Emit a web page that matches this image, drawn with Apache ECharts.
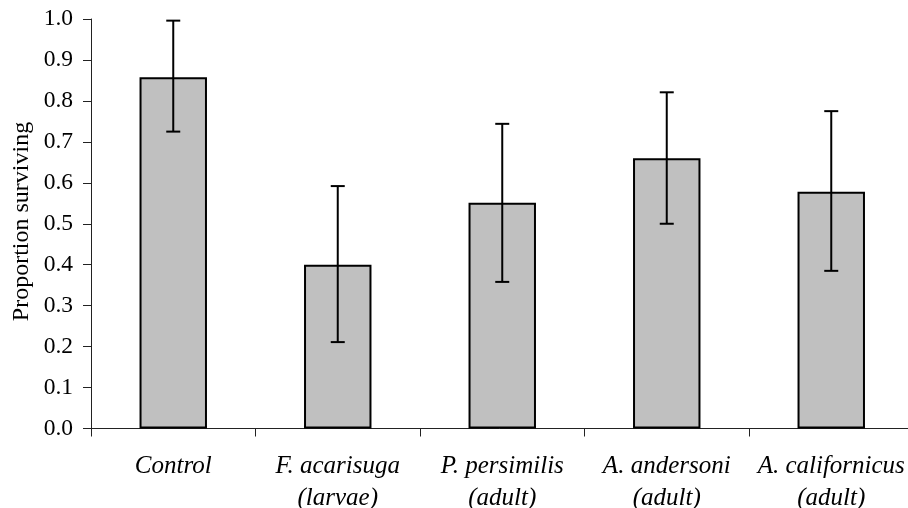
<!DOCTYPE html>
<html>
<head>
<meta charset="utf-8">
<script src="https://cdn.jsdelivr.net/npm/echarts@6/dist/echarts.min.js"></script>
<style>
html,body{margin:0;padding:0;background:#fff;overflow:hidden;}
#chart{width:908px;height:508px;}
</style>
</head>
<body>
<div id="chart"></div>
<script>
var categories = ['Control', 'F. acarisuga\n(larvae)', 'P. persimilis\n(adult)', 'A. andersoni\n(adult)', 'A. californicus\n(adult)'];
var means = [0.858, 0.400, 0.551, 0.660, 0.578];
var lowerErr = [0.725, 0.211, 0.358, 0.500, 0.385];
var upperErr = [0.996, 0.592, 0.744, 0.821, 0.775];
var yTicks = [0, 0.1, 0.2, 0.3, 0.4, 0.5, 0.6, 0.7, 0.8, 0.9, 1.0];

var FONT = "'Liberation Serif', 'Times New Roman', serif";
var errData = categories.map(function (c, i) { return [i, lowerErr[i], upperErr[i]]; });

var chart = echarts.init(document.getElementById('chart'), null, {renderer: 'canvas', width: 908, height: 508});
chart.setOption({
  animation: false,
  backgroundColor: '#fff',
  grid: {left: 91, top: 19, width: 822.5, height: 409.5, containLabel: false, outerBoundsMode: 'none'},
  xAxis: {
    type: 'category',
    data: categories,
    boundaryGap: true,
    axisLine: {lineStyle: {color: '#222', width: 1}},
    axisTick: {show: true, length: 8, alignWithLabel: false, lineStyle: {color: '#222'}},
    axisLabel: {
      interval: 0, margin: 22, color: '#000',
      fontFamily: FONT, fontStyle: 'italic', fontSize: 25, lineHeight: 32
    },
    splitLine: {show: false}
  },
  yAxis: {
    type: 'value', min: 0, max: 1, interval: 0.1,
    axisLine: {show: true, lineStyle: {color: '#222', width: 1}},
    axisTick: {show: true, length: 8, lineStyle: {color: '#222'}},
    axisLabel: {
      margin: 18, color: '#000', fontFamily: FONT, fontSize: 23.5,
      formatter: function (v) { return v.toFixed(1); }
    },
    splitLine: {show: false}
  },
  graphic: [{
    type: 'text',
    x: 22, y: 221.5,
    rotation: Math.PI / 2,
    style: {
      text: 'Proportion surviving',
      font: '24px ' + FONT,
      fill: '#000',
      align: 'center',
      verticalAlign: 'middle'
    }
  }],
  series: [{
    type: 'bar',
    data: means,
    barWidth: '41%',
    itemStyle: {color: '#c0c0c0', borderColor: '#000', borderWidth: 2}
  }, {
    type: 'custom',
    data: errData,
    z: 10,
    renderItem: function (params, api) {
      var i = api.value(0);
      var lo = api.coord([i, api.value(1)]);
      var hi = api.coord([i, api.value(2)]);
      var hw = 7;
      var st = {stroke: '#000', lineWidth: 2};
      return {
        type: 'group',
        children: [
          {type: 'line', shape: {x1: lo[0], y1: lo[1], x2: hi[0], y2: hi[1]}, style: st},
          {type: 'line', shape: {x1: hi[0] - hw, y1: hi[1], x2: hi[0] + hw, y2: hi[1]}, style: st},
          {type: 'line', shape: {x1: lo[0] - hw, y1: lo[1], x2: lo[0] + hw, y2: lo[1]}, style: st}
        ]
      };
    }
  }]
});
</script>
</body>
</html>
